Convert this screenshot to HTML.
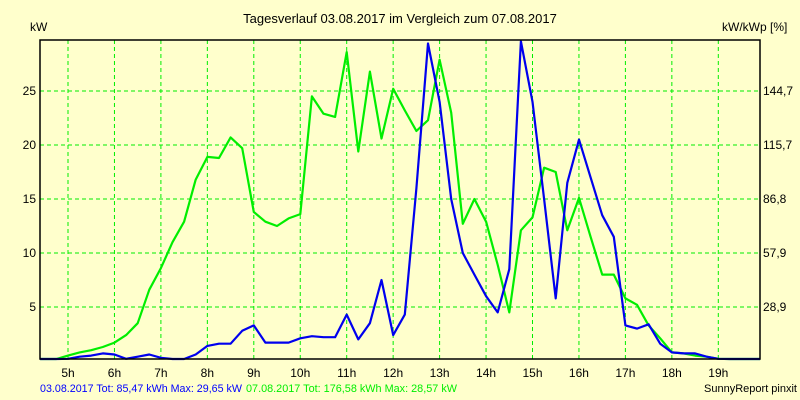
<!DOCTYPE html>
<html><head><meta charset="utf-8"><style>
body{margin:0;background:#ffffcc;}
svg{display:block;font-family:"Liberation Sans",sans-serif;}
</style></head><body>
<svg id="c" width="800" height="400">
<rect width="800" height="400" fill="#ffffcc"/>
<text x="400" y="23" font-size="13" text-anchor="middle">Tagesverlauf 03.08.2017 im Vergleich zum 07.08.2017</text>
<text x="30" y="31" font-size="12">kW</text>
<text x="722" y="31" font-size="12">kW/kWp [%]</text>
<g id="grid"></g><g id="series"></g>
<rect x="40" y="40" width="720" height="319" fill="none" stroke="#000" stroke-width="1.5"/>
<text x="40" y="392" font-size="11" fill="#0000ff" textLength="202" lengthAdjust="spacingAndGlyphs">03.08.2017 Tot: 85,47 kWh Max: 29,65 kW</text>
<text x="246" y="392" font-size="11" fill="#00ee00" textLength="211" lengthAdjust="spacingAndGlyphs">07.08.2017 Tot: 176,58 kWh Max: 28,57 kW</text>
<text x="797" y="392" font-size="11" text-anchor="end">SunnyReport pinxit</text>
</svg>
<script>
const hourTicks=[5,6,7,8,9,10,11,12,13,14,15,16,17,18,19];
const yTicks=[5,10,15,20,25];
const yRightLabels=["28,9","57,9","86,8","115,7","144,7"];
const times=[4.4,4.75,5,5.25,5.5,5.75,6,6.25,6.5,6.75,7,7.25,7.5,7.75,8,8.25,8.5,8.75,9,9.25,9.5,9.75,10,10.25,10.5,10.75,11,11.25,11.5,11.75,12,12.25,12.5,12.75,13,13.25,13.5,13.75,14,14.25,14.5,14.75,15,15.25,15.5,15.75,16,16.25,16.5,16.75,17,17.25,17.5,17.75,18,18.25,18.5,18.75,19,19.25,19.5,19.9];
const green=[0,0.1,0.5,0.8,1.0,1.3,1.7,2.4,3.5,6.6,8.6,11,12.9,16.8,18.9,18.8,20.7,19.7,13.8,12.9,12.5,13.2,13.6,24.5,22.9,22.6,28.6,19.4,26.8,20.6,25.2,23.2,21.3,22.3,27.9,23,12.7,15,12.9,8.9,4.5,12.1,13.3,17.9,17.5,12.1,15.1,11.5,8,8,5.8,5.2,3.3,2.1,0.8,0.7,0.5,0.4,0.2,0.1,0,0];
const blue=[0,0,0.2,0.4,0.5,0.7,0.6,0.2,0.4,0.6,0.3,0.1,0,0.6,1.4,1.6,1.6,2.8,3.3,1.7,1.7,1.7,2.1,2.3,2.2,2.2,4.3,2.0,3.5,7.5,2.4,4.3,16,29.4,24,15,10,8,6,4.5,8.5,29.6,24,15,5.8,16.5,20.5,17,13.5,11.5,3.3,3.0,3.4,1.6,0.8,0.7,0.7,0.4,0.2,0.1,0,0];
const X=h=>68+(h-5)*46.45;
const Y=v=>361-v*10.8;
const ns="http://www.w3.org/2000/svg";
const grid=document.getElementById('grid'), ser=document.getElementById('series');
function mk(tag,attrs,parent){const e=document.createElementNS(ns,tag);for(const k in attrs)e.setAttribute(k,attrs[k]);parent.appendChild(e);return e;}
hourTicks.forEach(h=>{
  const l=mk('line',{x1:X(h),x2:X(h),y1:40,y2:359,stroke:'#00ee00','stroke-dasharray':'4,3'},grid);
  
  
  const t=mk('text',{x:X(h),y:377,'font-size':12,'text-anchor':'middle'},grid);
  t.textContent=h+'h';
  
  
});
yTicks.forEach((v,i)=>{
  const l=mk('line',{x1:40,x2:760,y1:Y(v),y2:Y(v),stroke:'#00ee00','stroke-dasharray':'4,3'},grid);
  
  
  const t=mk('text',{x:36,y:Y(v)+4,'font-size':12,'text-anchor':'end'},grid);
  t.textContent=v;
  
  
  const r=mk('text',{x:763,y:Y(v)+4,'font-size':12},grid);
  r.textContent=yRightLabels[i];
  
  
});
function line(vals,color,name){
  const n=Math.min(vals.length,times.length);
  let d='';for(let i=0;i<n;i++)d+=(i?'L':'M')+X(times[i]).toFixed(1)+','+Math.min(359,Y(vals[i])).toFixed(1);
  const p=mk('path',{d:d,fill:'none',stroke:color,'stroke-width':2.2,'stroke-linejoin':'round'},ser);
  
  
}
line(green,'#00ee00','series-07-08-2017');
line(blue,'#0000ee','series-03-08-2017');
</script>
</body></html>
